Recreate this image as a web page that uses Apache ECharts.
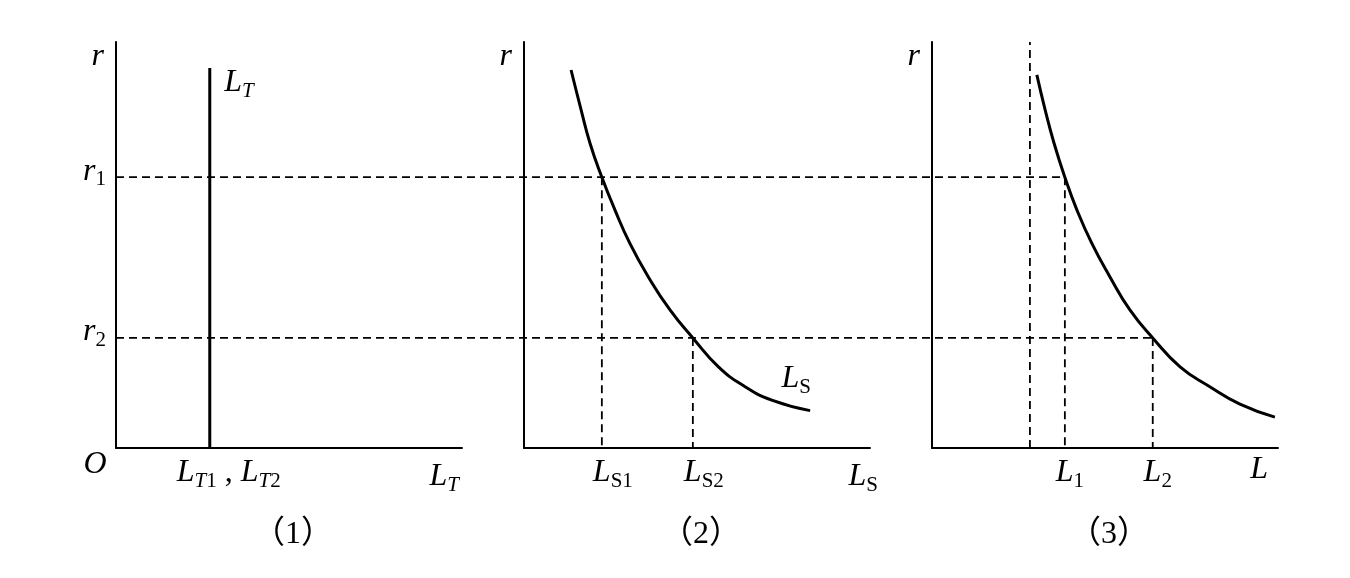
<!DOCTYPE html>
<html>
<head>
<meta charset="utf-8">
<script src="https://cdn.jsdelivr.net/npm/echarts@6.0.0/dist/echarts.min.js"></script>
<style>
  html, body { margin: 0; padding: 0; background: #fff; }
  #chart { width: 1350px; height: 578px; }
</style>
</head>
<body>
<div id="chart"></div>
<script>
// interest rate levels (r1, r2), axis runs 0..100
const R_LEVELS = [66.7, 27.1]
const R_SUBS = ['1', '2']

// panel (1): transaction demand, vertical line
const LT_X = 27.1
const LT_TOP = 93.6

// panel (2): speculative demand curve
const LS_X = [13.6, 16.5, 19.1, 22.5, 26.3, 30.6, 35.9, 42.2, 48.8, 56.2, 63.9, 71.6, 82.7]
const LS_Y = [93.1, 83.3, 75.0, 66.7, 58.6, 50.4, 42.2, 34.0, 27.1, 20.0, 15.1, 11.8, 9.2]
const LS_MARKS = [22.5, 48.8]

// panel (3): total demand curve
const L_X = [30.3, 32.7, 35.3, 38.4, 41.9, 46.2, 51.4, 57.2, 63.8, 71.7, 80.3, 89.0, 99.1]
const L_Y = [91.9, 83.3, 75.0, 66.7, 58.6, 50.4, 42.2, 34.0, 27.1, 20.0, 15.1, 10.8, 7.6]
const L_MARKS = [38.4, 63.8]
const L_GUIDE = 28.3

const PANEL_TITLES = ['（1）', '（2）', '（3）']

// layout
const GRID_LEFT = [116, 524, 932]
const GRID_W = 346
const GRID_TOP = 42
const GRID_H = 406
// one panel step expressed in panel x units (for the long dashed lines)
const STEP = (GRID_LEFT[1] - GRID_LEFT[0]) / GRID_W * 100
const SPAN = 2 * STEP + 100

const SERIF = '"Liberation Serif", "DejaVu Serif", serif'
const rich = {
  i: { fontFamily: SERIF, fontStyle: 'italic', fontSize: 32, lineHeight: 30, color: '#000', padding: [0, 0, 8, 0] },
  s: { fontFamily: SERIF, fontStyle: 'italic', fontSize: 21, lineHeight: 20, color: '#000', verticalAlign: 'bottom' },
  n: { fontFamily: SERIF, fontSize: 21, lineHeight: 20, color: '#000', verticalAlign: 'bottom' },
  c: { fontFamily: SERIF, fontSize: 32, lineHeight: 30, color: '#000', padding: [0, 0, 8, 0] },
  m: { fontFamily: SERIF, fontStyle: 'italic', fontSize: 32, lineHeight: 32, color: '#000' }
}

const chart = echarts.init(document.getElementById('chart'), null, { renderer: 'canvas' })

const axisLine = { show: true, onZero: false, lineStyle: { color: '#000', width: 2 } }
const solid = { color: '#000', width: 3 }
const dashed = { color: '#000', width: 1.8, type: [8, 5] }

const makeX = (i, name, nameGap, namePad, ticks, tickFmt, tickPad) => ({
  gridIndex: i,
  type: 'value',
  min: 0,
  max: 100,
  axisLine,
  axisTick: { show: false },
  splitLine: { show: false },
  axisLabel: {
    customValues: ticks,
    formatter: tickFmt,
    margin: 14,
    padding: [0, 0, 0, tickPad],
    rich
  },
  name,
  nameLocation: 'end',
  nameGap,
  nameTextStyle: { align: 'right', verticalAlign: 'top', padding: namePad, rich }
})

const makeY = (i, withTicks) => ({
  gridIndex: i,
  type: 'value',
  min: 0,
  max: 100,
  axisLine,
  axisTick: { show: false },
  splitLine: { show: false },
  axisLabel: withTicks ? {
    customValues: R_LEVELS,
    formatter: (v) => '{i|r}{n|' + R_SUBS[R_LEVELS.indexOf(v)] + '}',
    margin: 10,
    padding: [0, 0, 4, 0],
    rich
  } : { show: false },
  name: '{m|r}',
  nameLocation: 'end',
  nameGap: -15,
  nameTextStyle: { align: 'right', verticalAlign: 'middle', padding: [0, 12, 0, 0], rich }
})

const line = (i, data, style, extra) => Object.assign({
  type: 'line',
  xAxisIndex: i,
  yAxisIndex: i,
  data,
  symbol: 'none',
  lineStyle: style,
  silent: true,
  animation: false
}, extra || {})

const note = (i, points) => ({
  type: 'scatter',
  xAxisIndex: i,
  yAxisIndex: i,
  symbolSize: 1,
  itemStyle: { color: 'rgba(0,0,0,0)', opacity: 1 },
  silent: true,
  animation: false,
  data: points
})

const series = [
  // long dashed lines for r1 and r2 across the panels (grid 3 spans all three)
  line(3, [[0, R_LEVELS[0]], [2 * STEP + L_MARKS[0], R_LEVELS[0]]], dashed),
  line(3, [[0, R_LEVELS[1]], [2 * STEP + L_MARKS[1], R_LEVELS[1]]], dashed),
  // panel 1
  line(0, [[LT_X, 0], [LT_X, LT_TOP]], solid),
  // panel 2
  line(1, LS_X.map((x, k) => [x, LS_Y[k]]), solid, { smooth: 0.5 }),
  ...LS_MARKS.map((x, k) => line(1, [[x, R_LEVELS[k]], [x, 0]], dashed)),
  // panel 3
  line(2, [[L_GUIDE, 0], [L_GUIDE, 100]], dashed),
  line(2, L_X.map((x, k) => [x, L_Y[k]]), solid, { smooth: 0.5 }),
  ...L_MARKS.map((x, k) => line(2, [[x, R_LEVELS[k]], [x, 0]], dashed)),
  // text annotations anchored to data points
  note(0, [
    { value: [LT_X, LT_TOP], label: { show: true, position: 'right', distance: 14, offset: [0, 19], formatter: '{i|L}{s|T}', rich } },
    { value: [0, 0], label: { show: true, position: 'inside', offset: [-21, 17], formatter: '{m|O}', rich } }
  ]),
  note(1, [
    { value: [LS_X[LS_X.length - 1], LS_Y[LS_Y.length - 1]], label: { show: true, position: 'inside', offset: [-14, -28], formatter: '{i|L}{n|S}', rich } }
  ])
]

const hiddenAxis = (i, max) => ({ gridIndex: i, type: 'value', min: 0, max, show: false, splitLine: { show: false } })

const option = {
  backgroundColor: '#fff',
  animation: false,
  title: PANEL_TITLES.map((t, i) => ({
    text: t,
    left: GRID_LEFT[i] + 172,
    top: 514,
    textAlign: 'center',
    textStyle: { fontFamily: '"Liberation Serif", "Noto Sans CJK SC"', fontSize: 32, fontWeight: 'normal', color: '#000' }
  })),
  grid: [
    ...GRID_LEFT.map(left => ({ left, top: GRID_TOP, width: GRID_W, height: GRID_H, containLabel: false })),
    { left: GRID_LEFT[0], top: GRID_TOP, width: GRID_LEFT[2] + GRID_W - GRID_LEFT[0], height: GRID_H, containLabel: false }
  ],
  xAxis: [
    makeX(0, '{i|L}{s|T}', -3, [18, 0, 0, 0], [LT_X],
      () => '{i|L}{s|T}{n|1}{c| , }{i|L}{s|T}{n|2}', 38),
    makeX(1, '{i|L}{n|S}', 8, [18, 0, 0, 0], LS_MARKS,
      (v) => '{i|L}{n|S' + (LS_MARKS.indexOf(v) + 1) + '}', 22),
    makeX(2, '{m|L}', -10, [6, 0, 0, 0], L_MARKS,
      (v) => '{i|L}{n|' + (L_MARKS.indexOf(v) + 1) + '}', 10),
    hiddenAxis(3, SPAN)
  ],
  yAxis: [makeY(0, true), makeY(1, false), makeY(2, false), hiddenAxis(3, 100)],
  series
}

chart.setOption(option)
</script>
</body>
</html>
